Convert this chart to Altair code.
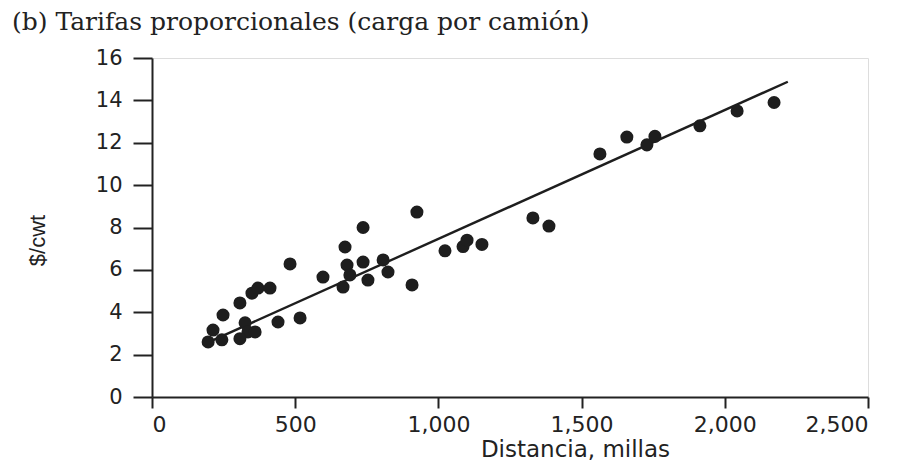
import altair as alt
import pandas as pd

# Scatter data (distance in miles, rate in $/cwt)
dist = [196, 244, 213, 248, 307, 349, 370, 412, 325, 335, 307, 360, 440, 517, 482,
        597, 674, 737, 681, 737, 691, 667, 754, 807, 824, 908, 925,
        1023, 1086, 1100, 1152, 1330, 1386,
        1564, 1658, 1728, 1756, 1913, 2043, 2172]
rate = [2.6, 2.7, 3.16, 3.87, 4.44, 4.9, 5.14, 5.14, 3.5, 3.07, 2.75, 3.07, 3.54, 3.73, 6.28,
        5.66, 7.08, 8.0, 6.23, 6.37, 5.76, 5.19, 5.52, 6.47, 5.9, 5.29, 8.73,
        6.9, 7.1, 7.4, 7.2, 8.45, 8.07,
        11.47, 12.27, 11.9, 12.3, 12.8, 13.5, 13.9]

# Fitted line end points
line_x = [200, 2220]
line_y = [2.6, 14.88]

x_ticks = [0, 500, 1000, 1500, 2000, 2500]
y_ticks = [0, 2, 4, 6, 8, 10, 12, 14, 16]

pts = pd.DataFrame({"d": dist, "r": rate})
ln = pd.DataFrame({"d": line_x, "r": line_y})

xs = alt.Scale(domain=[0, 2500], nice=False, zero=False)
ys = alt.Scale(domain=[0, 16], nice=False, zero=False)

xax = alt.Axis(values=x_ticks, format=",d", title="Distancia, millas",
               grid=False, tickSize=11, labelPadding=6, labelFontSize=22,
               titleFontSize=23, titleFontWeight="normal", titleX=423, titleY=41,
               labelFont="DejaVu Sans", titleFont="DejaVu Sans",
               domainColor="#222", tickColor="#222", domainWidth=2, tickWidth=2,
               labelColor="#222", titleColor="#222")
yax = alt.Axis(values=y_ticks, title="$/cwt", grid=False, tickSize=19,
               labelPadding=11, labelFontSize=21, titleFontSize=22,
               titleFontWeight="normal", titleX=-103, titleY=182,
               labelFont="DejaVu Sans", titleFont="Liberation Sans",
               domainColor="#222", tickColor="#222", domainWidth=2, tickWidth=2,
               labelColor="#222", titleColor="#222")

points = alt.Chart(pts).mark_circle(size=170, color="#1e1e1e", opacity=1).encode(
    x=alt.X("d:Q", scale=xs, axis=xax),
    y=alt.Y("r:Q", scale=ys, axis=yax),
)
line = alt.Chart(ln).mark_line(color="#1e1e1e", strokeWidth=2.4).encode(
    x=alt.X("d:Q", scale=xs),
    y=alt.Y("r:Q", scale=ys),
)

chart = alt.layer(line, points).properties(
    width=716, height=339,
    autosize=alt.AutoSizeParams(type="none"),
    padding={"left": 144, "top": 50, "right": 20, "bottom": 66},
    title=alt.TitleParams("(b) Tarifas proporcionales (carga por camión)",
                          anchor="start", frame="group", dx=-140, offset=12,
                          font="DejaVu Serif", fontSize=25,
                          fontWeight="normal", color="#222"),
).configure_view(stroke=None).configure(background="white")

chart.save("out.html", embed_options={"renderer": "svg", "actions": False})
